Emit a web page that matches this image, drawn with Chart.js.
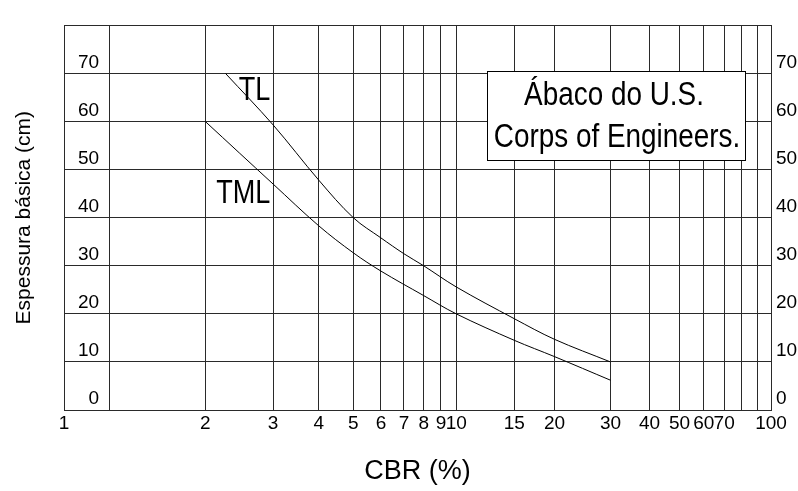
<!DOCTYPE html>
<html>
<head>
<meta charset="utf-8">
<title>Ábaco do U.S. Corps of Engineers</title>
<script src="https://cdn.jsdelivr.net/npm/chart.js@4.4.1/dist/chart.umd.min.js"></script>
<style>
  html, body { margin: 0; padding: 0; background: #fff; }
</style>
</head>
<body>
<canvas id="myChart" width="798" height="491"></canvas>
<script>
var FONT = "'Liberation Sans', Arial, sans-serif";

// x axis: CBR (%) ticks, the 1.2 / 80 / 90 lines have no label
var cbrTicks  = [1, 1.2, 2, 3, 4, 5, 6, 7, 8, 9, 10, 15, 20, 30, 40, 50, 60, 70, 80, 90, 100];
var cbrLabels = ["1", "", "2", "3", "4", "5", "6", "7", "8", "9", "10", "15", "20", "30", "40", "50", "60", "70", "", "", "100"];

// y axis: espessura (cm)
var espTicks  = [0, 10, 20, 30, 40, 50, 60, 70, 80];
var espLabels = ["0", "10", "20", "30", "40", "50", "60", "70", ""];

// curves
var tlCbr  = [2.25, 3, 4, 5, 6, 7, 8, 10, 15, 20, 30];
var tlEsp  = [70, 59.3, 47.8, 40, 35.8, 32.5, 30, 25.6, 19, 14.7, 10];
var tmlCbr = [2, 3, 4, 5, 6, 8, 10, 15, 20, 30];
var tmlEsp = [60, 47, 38.3, 32.7, 28.9, 23.8, 20, 14.5, 11.1, 6.2];

// curve names and where they sit
var curveNames = ["TL", "TML"];
var nameCbr = [2.95, 2.95];
var nameEsp = [64.5, 43];

var boxLines = ["Ábaco do U.S.", "Corps of Engineers."];

function pts(xs, ys) {
  return xs.map(function(x, i) { return {x: x, y: ys[i]}; });
}

// the printed abaco squeezes the log decades a bit towards the right
var SQUEEZE = 0.85;
class CbrScale extends Chart.Scale {
  determineDataLimits() {
    this.min = cbrTicks[0];
    this.max = cbrTicks[cbrTicks.length - 1];
  }
  buildTicks() {
    return cbrTicks.map(function(v) { return {value: v}; });
  }
  getLabelForValue(v) { return String(v); }
  getPixelForValue(v) {
    var d = Math.log10(v / this.min) / Math.log10(this.max / this.min);
    return this.getPixelForDecimal(Math.pow(Math.max(d, 0), SQUEEZE));
  }
  getValueForPixel(p) {
    var d = Math.pow(this.getDecimalForPixel(p), 1 / SQUEEZE);
    return this.min * Math.pow(this.max / this.min, d);
  }
}
CbrScale.id = 'cbr';
CbrScale.defaults = {};
Chart.register(CbrScale);

// narrow lettering like the original print
function narrowText(ctx, txt, x, y, size, align) {
  var k = 0.82;
  ctx.save();
  ctx.font = size + 'px ' + FONT;
  ctx.textAlign = align;
  ctx.textBaseline = 'alphabetic';
  ctx.translate(x, y);
  ctx.scale(k, 1);
  ctx.fillText(txt, 0, 0);
  ctx.restore();
}

var notes = {
  id: 'notes',
  afterDatasetsDraw: function(chart) {
    var ctx = chart.ctx, xs = chart.scales.x, ys = chart.scales.y;
    ctx.save();
    ctx.fillStyle = '#000';
    curveNames.forEach(function(n, i) {
      narrowText(ctx, n, xs.getPixelForValue(nameCbr[i]), ys.getPixelForValue(nameEsp[i]), 33, 'right');
    });
    // title box
    ctx.fillStyle = '#fff';
    ctx.fillRect(487, 71, 258, 89);
    ctx.strokeStyle = '#000';
    ctx.lineWidth = 1;
    ctx.strokeRect(487.5, 71.5, 258, 89);
    ctx.fillStyle = '#000';
    narrowText(ctx, boxLines[0], 614, 105, 34, 'center');
    narrowText(ctx, boxLines[1], 617, 147, 34, 'center');
    ctx.restore();
  }
};

var gridColor = '#2a2a2a';
var ctx = document.getElementById('myChart');
var myChart = new Chart(ctx, {
  type: 'line',
  data: {
    datasets: [{
      label: 'TL',
      data: pts(tlCbr, tlEsp),
      borderColor: '#000',
      borderWidth: 1,
      pointRadius: 0,
      fill: false,
      tension: 0.35
    }, {
      label: 'TML',
      data: pts(tmlCbr, tmlEsp),
      borderColor: '#000',
      borderWidth: 1,
      pointRadius: 0,
      fill: false,
      tension: 0.35
    }]
  },
  options: {
    responsive: false,
    animation: false,
    layout: { padding: { top: 14, left: 0, right: 0, bottom: 0 } },
    plugins: { legend: { display: false }, tooltip: { enabled: false } },
    scales: {
      x: {
        type: 'cbr',
        position: 'bottom',
        grid: { color: gridColor, lineWidth: 1, drawTicks: false },
        border: { display: true, color: gridColor },
        ticks: {
          autoSkip: false, maxRotation: 0, padding: 2, color: '#000',
          font: { family: FONT, size: 19 },
          callback: function(v, i) { return cbrLabels[i]; }
        },
        title: {
          display: true, text: 'CBR (%)', color: '#000',
          font: { family: FONT, size: 27 },
          padding: { top: 0, bottom: 3 }
        },
        afterFit: function(s) { s.height = 81; }
      },
      y: {
        type: 'linear',
        position: 'left',
        min: 0, max: 80,
        afterBuildTicks: function(s) { s.ticks = espTicks.map(function(v) { return {value: v}; }); },
        grid: { color: gridColor, lineWidth: 1, drawTicks: false },
        border: { display: true, color: gridColor },
        ticks: {
          mirror: true, crossAlign: 'far', padding: 14, labelOffset: -11, color: '#000',
          font: { family: FONT, size: 19 },
          callback: function(v, i) { return espLabels[i]; }
        },
        title: {
          display: true, text: 'Espessura básica (cm)', color: '#000',
          font: { family: FONT, size: 21 },
          padding: { top: 12, bottom: 0 }
        },
        afterFit: function(s) { s.width = 64; }
      },
      y2: {
        type: 'linear',
        position: 'right',
        min: 0, max: 80,
        afterBuildTicks: function(s) { s.ticks = espTicks.map(function(v) { return {value: v}; }); },
        grid: { display: false, drawTicks: false },
        border: { display: true, color: gridColor },
        ticks: {
          padding: 5, labelOffset: -11, color: '#000',
          font: { family: FONT, size: 19 },
          callback: function(v, i) { return espLabels[i]; }
        },
        afterFit: function(s) { s.width = 27; }
      }
    }
  },
  plugins: [notes]
});
</script>
</body>
</html>
